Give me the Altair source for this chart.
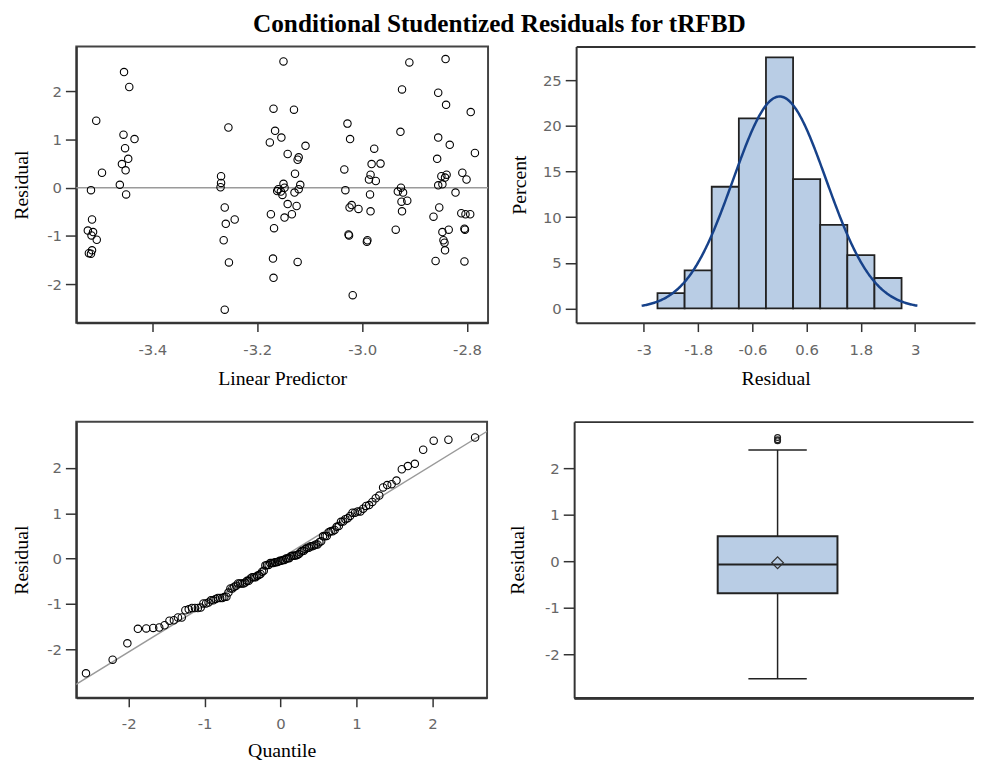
import altair as alt
import numpy as np
import pandas as pd

# ---------------- data ----------------
lin_pred = [
    -3.517, -3.515, -3.523, -3.513, -3.516, -3.506, -3.515, -3.521, -3.517, -3.507,
    -3.496, -3.454, -3.444, -3.455, -3.434, -3.452, -3.446, -3.458, -3.451, -3.462,
    -3.450, -3.255, -3.269, -3.269, -3.270, -3.262, -3.243, -3.260, -3.264, -3.254,
    -3.262, -3.150, -3.169, -3.130, -3.166, -3.154, -3.176, -3.108, -3.142, -3.121,
    -3.123, -3.128, -3.150, -3.118, -3.160, -3.155, -3.152, -3.162, -3.148, -3.129,
    -3.121, -3.142, -3.125, -3.134, -3.174, -3.148, -3.168, -3.170, -3.123, -3.169,
    -3.028, -3.023, -2.977, -2.982, -2.965, -3.034, -2.984, -2.987, -2.974, -3.032,
    -2.985, -3.024, -3.020, -3.007, -2.984, -3.026, -3.025, -2.990, -2.991, -3.018,
    -2.926, -2.932, -2.922, -2.914, -2.925, -2.924, -2.936, -2.910, -2.924, -2.927,
    -2.841, -2.855, -2.840, -2.793, -2.855, -2.833, -2.785, -2.857, -2.839, -2.849,
    -2.842, -2.855, -2.847, -2.809, -2.801, -2.822, -2.853, -2.864, -2.811, -2.803,
    -2.794, -2.847, -2.835, -2.805, -2.804, -2.845, -2.843, -2.842, -2.860, -2.805,
]
resid = [
    -0.05, -0.66, -0.89, -0.92, -0.99, -1.08, -1.30, -1.36, -1.37, 1.39,
    0.31, 2.40, 2.09, 1.10, 1.01, 0.82, 0.60, 0.49, 0.36, 0.06,
    -0.14, 1.25, 0.24, 0.10, 0.01, -0.41, -0.66, -0.75, -1.09, -1.55,
    -2.53, 2.62, 1.64, 1.62, 1.18, 1.04, 0.94, 0.87, 0.70, 0.63,
    0.58, 0.29, 0.08, 0.06, -0.03, -0.08, -0.15, -0.07, 0.00, -0.10,
    -0.03, -0.34, -0.38, -0.55, -0.55, -0.62, -0.84, -1.47, -1.54, -1.87,
    1.33, 1.01, 0.81, 0.49, 0.50, 0.38, 0.27, 0.17, 0.14, -0.05,
    -0.14, -0.41, -0.36, -0.44, -0.49, -0.97, -0.99, -1.09, -1.12, -2.23,
    0.00, -0.08, -0.10, -0.27, -0.29, -0.49, -0.87, 2.60, 2.04, 1.16,
    2.67, 1.97, 1.72, 1.57, 1.04, 0.89, 0.72, 0.60, 0.27, 0.24,
    0.21, 0.05, 0.07, 0.31, 0.17, -0.10, -0.41, -0.60, -0.53, -0.55,
    -0.55, -0.92, -0.87, -0.85, -0.87, -1.09, -1.14, -1.30, -1.52, -1.53,
]

hist_edges = [-2.7, -2.1, -1.5, -0.9, -0.3, 0.3, 0.9, 1.5, 2.1, 2.7]

box_group = ["Residual"]
box_q1 = [-0.69]
box_median = [-0.07]
box_q3 = [0.54]
box_whisker_lo = [-2.53]
box_whisker_hi = [2.40]
box_mean = [-0.03]

scatter_x_ticks = [-3.4, -3.2, -3.0, -2.8]
resid_ticks = [-2, -1, 0, 1, 2]
hist_x_ticks = [-3, -1.8, -0.6, 0.6, 1.8, 3]
pct_ticks = [0, 5, 10, 15, 20, 25]
qq_x_ticks = [-2, -1, 0, 1, 2]

# ---------------- derived tables ----------------
df = pd.DataFrame({"pred": lin_pred, "resid": resid})
n = len(resid)
counts, _ = np.histogram(resid, bins=hist_edges)
hist_df = pd.DataFrame({
    "lo": hist_edges[:-1],
    "hi": hist_edges[1:],
    "pct": counts / n * 100.0,
})
mu = float(np.mean(resid))
sd = float(np.std(resid, ddof=1))
bin_w = hist_edges[1] - hist_edges[0]

box_df = pd.DataFrame({
    "grp": box_group, "q1": box_q1, "med": box_median, "q3": box_q3,
    "lo": box_whisker_lo, "hi": box_whisker_hi, "mean": box_mean,
})
outlier_vals = [v for v in resid if v > box_whisker_hi[0]]
out_df = pd.DataFrame({"grp": box_group * len(outlier_vals), "v": outlier_vals})

# ---------------- styling helpers ----------------
MINUS_FIX = "replace(format(datum.value, '{f}'), '\u2212', '-')"
BLUE_FILL = "#b9cde5"
DARK = "#222222"


def x_axis(title, values, fmt, lpad=11, tpad=11):
    return alt.Axis(title=title, values=values, labelExpr=MINUS_FIX.format(f=fmt),
                    tickSize=9, labelPadding=lpad, titlePadding=tpad, labelFlush=False,
                    orient="bottom")


def y_axis(title, values, fmt, tx):
    return alt.Axis(title=title, values=values, labelExpr=MINUS_FIX.format(f=fmt),
                    tickSize=11, labelPadding=4, titleX=tx, titleBaseline="middle",
                    labelFlush=False)


def frame_axis(orient):
    return alt.Axis(orient=orient, labels=False, ticks=False, title=None, domain=True)


TOP_H = 279
BOT_H = 279

# ---------------- panel 1: residual vs linear predictor ----------------
sx = alt.Scale(domain=[-3.545, -2.760], nice=False, zero=False)
sy = alt.Scale(domain=[-2.80, 2.93], nice=False, zero=False)
X1 = alt.X("pred:Q", scale=sx, axis=x_axis("Linear Predictor", scatter_x_ticks, ".1f"))
Y1 = alt.Y("resid:Q", scale=sy, axis=y_axis("Residual", resid_ticks, "d", -55))

zero_line = alt.Chart(pd.DataFrame({"pred": [-3.545], "resid": [0.0]})).mark_rule(
    color="#9a9a9a", strokeWidth=1.5).encode(y=Y1)
pts1 = alt.Chart(df).mark_point(shape="circle", filled=False, color="#000",
                                size=56, strokeWidth=1.1, opacity=1).encode(x=X1, y=Y1)
p1 = alt.layer(zero_line, pts1).properties(width=416, height=TOP_H)

# ---------------- panel 2: histogram ----------------
hx = alt.Scale(domain=[-4.5, 4.325], nice=False, zero=False)
hy = alt.Scale(domain=[-1.56, 28.7], nice=False, zero=False)
HY = alt.Y("pct:Q", scale=hy, axis=y_axis("Percent", pct_ticks, "d", -57))
bars = alt.Chart(hist_df).mark_bar(fill=BLUE_FILL, stroke=DARK, strokeWidth=1.8, opacity=1).encode(
    x=alt.X("lo:Q", scale=hx, axis=x_axis("Residual", hist_x_ticks, "~g")),
    x2="hi:Q",
    y=HY,
    y2=alt.datum(0),
)
curve = alt.Chart(alt.sequence(-3.05, 3.06, 0.02, as_="v")).transform_calculate(
    pct=f"{100 * bin_w} * densityNormal(datum.v, {mu}, {sd})"
).mark_line(color="#17428a", strokeWidth=2.5).encode(
    x=alt.X("v:Q", scale=hx, axis=frame_axis("top")),
    y=HY,
)
p2 = alt.layer(bars, curve).resolve_axis(x="independent").properties(
    width=403, height=TOP_H, view=alt.ViewBackground(stroke="transparent"))

# ---------------- panel 3: Q-Q plot ----------------
qx = alt.Scale(domain=[-2.69, 2.72], nice=False, zero=False)
qy = alt.Scale(domain=[-3.07, 3.02], nice=False, zero=False)
QX = alt.X("q:Q", scale=qx, axis=x_axis("Quantile", qq_x_ticks, "d", lpad=10, tpad=9))
QY = alt.Y("resid:Q", scale=qy, axis=y_axis("Residual", resid_ticks, "d", -55))
qq_line = alt.Chart(pd.DataFrame({"q": [-3.0, 3.0]})).transform_calculate(
    resid=f"{mu} + {sd} * datum.q"
).mark_line(color="#9a9a9a", strokeWidth=1.5, clip=True).encode(x=QX, y=QY)
qq_pts = alt.Chart(df).transform_window(
    rank="row_number()", sort=[alt.SortField(field="resid", order="ascending")]
).transform_joinaggregate(nn="count()").transform_calculate(
    q="quantileNormal((datum.rank - 0.375) / (datum.nn + 0.25))"
).mark_point(shape="circle", filled=False, color="#000", size=56, strokeWidth=1.1,
             opacity=1).encode(x=QX, y=QY)
p3 = alt.layer(qq_line, qq_pts).properties(width=415, height=BOT_H)

# ---------------- panel 4: box plot ----------------
by = alt.Scale(domain=[-2.94, 3.01], nice=False, zero=False)
bx = alt.Scale(paddingInner=0, paddingOuter=0.5, align=0.52)
BX = alt.X("grp:N", scale=bx, axis=frame_axis("bottom"))
BXT = alt.X("grp:N", scale=bx, axis=frame_axis("top"))
baxis = y_axis("Residual", resid_ticks, "d", -57)


def BY(field):
    return alt.Y(field, scale=by, axis=baxis)


base_box = alt.Chart(box_df)
whisk = base_box.mark_rule(color=DARK, strokeWidth=1.5).encode(x=BX, y=BY("lo:Q"), y2="hi:Q")
box = base_box.mark_bar(size=121, fill=BLUE_FILL, stroke=DARK, strokeWidth=2, opacity=1).encode(
    x=BX, y=BY("q1:Q"), y2="q3:Q")
cap_lo = base_box.mark_tick(size=59, thickness=1.5, color=DARK, opacity=1).encode(x=BX, y=BY("lo:Q"))
cap_hi = base_box.mark_tick(size=59, thickness=1.5, color=DARK, opacity=1).encode(x=BX, y=BY("hi:Q"))
med = base_box.mark_tick(size=121, thickness=2, color=DARK, opacity=1).encode(x=BX, y=BY("med:Q"))
mean_pt = base_box.mark_point(shape="diamond", filled=False, size=140, color="#333",
                              strokeWidth=1.2, opacity=1).encode(x=BX, y=BY("mean:Q"))
outl = alt.Chart(out_df).mark_point(shape="circle", filled=False, size=34, color=DARK,
                                    strokeWidth=1.3, opacity=1).encode(x=BXT, y=BY("v:Q"))
p4 = alt.layer(whisk, box, cap_lo, cap_hi, med, mean_pt, outl).resolve_axis(
    x="independent").properties(width=403, height=BOT_H,
                                view=alt.ViewBackground(stroke="transparent"))

# ---------------- assemble ----------------
top = alt.hconcat(p1, p2, spacing=19)
bottom = alt.hconcat(p3, p4, spacing=19)
chart = alt.vconcat(top, bottom, spacing=32).properties(
    title=alt.TitleParams(
        "Conditional Studentized Residuals for tRFBD",
        font="Liberation Serif", fontSize=25.5, fontWeight="bold", color="#000",
        anchor="middle", offset=6, dy=-2, dx=6,
    ),
    padding={"left": 3, "top": 0, "right": 0, "bottom": 0},
).configure_view(
    stroke="#444", strokeWidth=2
).configure_axis(
    labelFont="DejaVu Sans", labelFontSize=15, labelColor="#666",
    titleFont="Liberation Serif", titleFontSize=20, titleFontWeight="normal",
    titleColor="#000", domainColor="#333", domainWidth=2,
    tickColor="#333", tickWidth=1.5, grid=False,
)

chart.save("out.html", embed_options={"renderer": "svg", "actions": False})
